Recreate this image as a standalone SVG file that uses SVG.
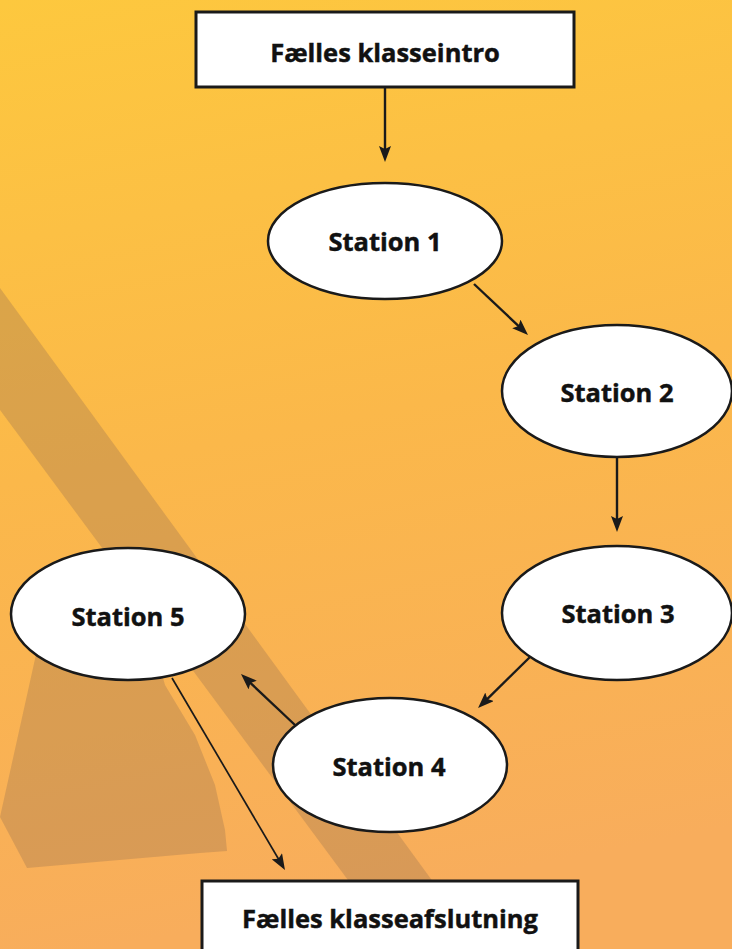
<svg xmlns="http://www.w3.org/2000/svg" width="732" height="949" viewBox="0 0 732 949">
  <defs>
    <linearGradient id="bg" x1="0" y1="0" x2="0.15" y2="1">
      <stop offset="0" stop-color="#fdc83e"/>
      <stop offset="0.5" stop-color="#fbb84a"/>
      <stop offset="1" stop-color="#f8ad5c"/>
    </linearGradient>
    <marker id="ah" viewBox="0 0 16 12" refX="5" refY="6" markerWidth="16" markerHeight="12" markerUnits="userSpaceOnUse" orient="auto">
      <path d="M0,0 L16,6 L0,12 L3,6 z" fill="#1a1a1a"/>
    </marker>
    <style>
      .box { fill: #ffffff; stroke: #1a1a1a; stroke-width: 3; }
      .ell { fill: #ffffff; stroke: #1a1a1a; stroke-width: 2.5; }
      .lbl { font-family: "Open Sans", "Liberation Sans", sans-serif; font-weight: 700; font-size: 25.5px; fill: #111111; stroke: #111111; stroke-width: 0.45; text-anchor: middle; }
      .con { stroke: #1a1a1a; stroke-width: 2.4; fill: none; marker-end: url(#ah); }
      .shadow { fill: #a07850; opacity: 0.36; }
    </style>
  </defs>

  <rect x="0" y="0" width="732" height="949" fill="url(#bg)"/>

  <g id="background-shadows">
    <polygon class="shadow" points="0,288 482,949 399,949 0,410"/>
    <polygon class="shadow" points="37,650 155,650 165,685 195,735 215,785 225,830 227,851 200,853 27,868 0,817"/>
  </g>

  <g id="connectors">
    <line class="con" x1="385" y1="87" x2="385" y2="151"/>
    <line class="con" x1="474" y1="284" x2="520" y2="327.4"/>
    <line class="con" x1="617" y1="457" x2="617" y2="521"/>
    <line class="con" x1="530" y1="657" x2="485.9" y2="700.3"/>
    <line class="con" x1="295" y1="725" x2="249" y2="681.6"/>
    <line class="con" x1="172" y1="678" x2="279.4" y2="860.5" style="stroke-width:1.7"/>
  </g>

  <g id="intro">
    <rect class="box" x="196" y="12" width="378" height="75"/>
    <text class="lbl" x="385" y="62">Fælles klasseintro</text>
  </g>

  <g id="station1">
    <ellipse class="ell" cx="385" cy="241" rx="117" ry="58"/>
    <text class="lbl" x="385" y="251">Station 1</text>
  </g>

  <g id="station2">
    <ellipse class="ell" cx="617" cy="391" rx="115" ry="66"/>
    <text class="lbl" x="617" y="402">Station 2</text>
  </g>

  <g id="station3">
    <ellipse class="ell" cx="617" cy="613" rx="115" ry="67"/>
    <text class="lbl" x="618" y="623">Station 3</text>
  </g>

  <g id="station4">
    <ellipse class="ell" cx="390" cy="765" rx="117" ry="67"/>
    <text class="lbl" x="389" y="776">Station 4</text>
  </g>

  <g id="station5">
    <ellipse class="ell" cx="128" cy="614" rx="117" ry="66"/>
    <text class="lbl" x="128" y="626">Station 5</text>
  </g>

  <g id="afslutning">
    <rect class="box" x="202" y="881" width="376" height="80"/>
    <text class="lbl" x="390" y="928">Fælles klasseafslutning</text>
  </g>
</svg>
